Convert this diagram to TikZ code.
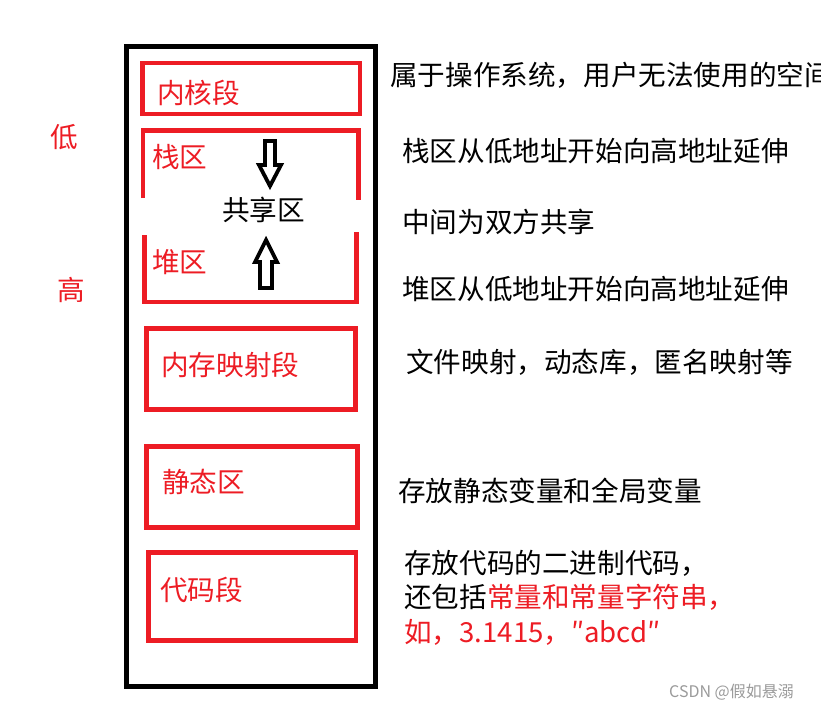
\documentclass[tikz,border=0pt]{standalone}
\usepackage{fontspec}
\setmainfont{Noto Sans CJK SC}
\usetikzlibrary{positioning}
\definecolor{segRed}{HTML}{ED1C24}
\definecolor{markGrey}{HTML}{9A9A9A}
\tikzset{
  memframe/.style  = {draw=black, line width=5pt},
  segbox/.style    = {draw=segRed, line width=4.5pt},
  blockarr/.style  = {draw=black, line width=3.8pt, line join=miter},
  seglbl/.style    = {anchor=west, inner sep=0pt, segRed,
                      font=\fontsize{27.6}{32}\selectfont},
  desc/.style      = {anchor=west, inner sep=0pt, black,
                      font=\fontsize{27.6}{32}\selectfont},
  wmark/.style     = {anchor=west, inner sep=0pt, markGrey,
                      font=\fontsize{16}{19}\selectfont},
}

\begin{document}
\begin{tikzpicture}[x=1pt,y=-1pt]
  \path[use as bounding box, clip] (0,0) rectangle (821,710);
  % memory column
  \draw[memframe] (126,46.5) rectangle (375,686);
  \draw[segbox] (142.5,63) rectangle (360,114);
  \draw[segbox] (143,198) -- (143,130.5) -- (358.5,130.5) -- (358.5,200);
  \draw[segbox] (144.5,235) -- (144.5,302) -- (356.5,302) -- (356.5,232);
  \draw[segbox] (146.5,328.5) rectangle (355.5,409.5);
  \draw[segbox] (146.5,446.5) rectangle (357.5,527.5);
  \draw[segbox] (148.5,552.5) rectangle (356,640.5);
  % growth arrows
  \draw[blockarr] (265,141) -- (275,141) -- (275,165) -- (281,165) -- (270,186)
                  -- (259,165) -- (265,165) -- cycle;
  \draw[blockarr] (266,240) -- (277,262) -- (272,262) -- (272,288) -- (260,288)
                  -- (260,262) -- (255,262) -- cycle;
  % segment names
  \node[seglbl] (kernel) at (157,92.5) {内核段};
  \node[seglbl] (stack)  at (152,157) {栈区};
  \node[desc, anchor=center] (shared) at (263.5,210) {共享区};
  \node[seglbl] (heap)   at (152,262.5) {堆区};
  \node[seglbl] (mmap)   at (161,365) {内存映射段};
  \node[seglbl] (static) at (162,482) {静态区};
  \node[seglbl] (code)   at (160,589.5) {代码段};
  \node[seglbl] (low)    at (50,137.5) {低};
  \node[seglbl] (high)   at (57,290) {高};
  % notes
  \node[desc] (kernelnote) at (390,75) {属于操作系统，用户无法使用的空间};
  \node[desc] (stacknote)  at (402,151) {栈区从低地址开始向高地址延伸};
  \node[desc] (sharednote) at (402,222) {中间为双方共享};
  \node[desc] (heapnote)   at (402,289) {堆区从低地址开始向高地址延伸};
  \node[desc] (mmapnote)   at (406,362) {文件映射，动态库，匿名映射等};
  \node[desc] (staticnote) at (398,491) {存放静态变量和全局变量};
  \node[desc] (codenote)   at (404,563) {存放代码的二进制代码，};
  \node[desc] (codenoteb)  at (404,597) {还包括\textcolor{segRed}{常量和常量字符串，}};
  \node[desc, segRed] (codenotec) at (404,632) {如，3.1415，″abcd″};
  \node[wmark] (csdn) at (669,692) {CSDN @假如悬溺};
\end{tikzpicture}
\end{document}
